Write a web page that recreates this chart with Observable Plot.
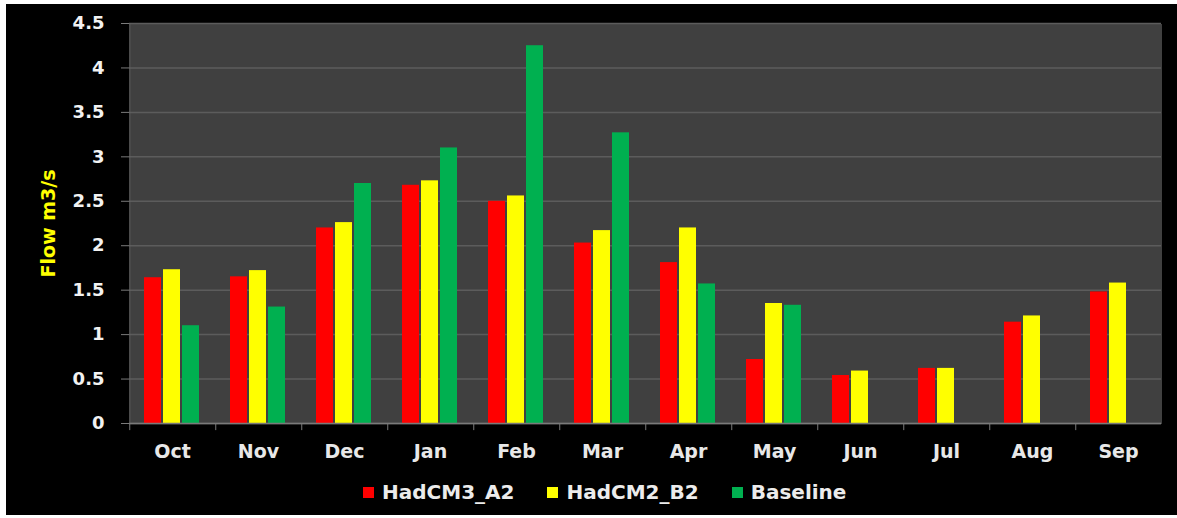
<!DOCTYPE html>
<html><head><meta charset="utf-8">
<script src="https://cdn.jsdelivr.net/npm/d3@7"></script>
<script src="https://cdn.jsdelivr.net/npm/@observablehq/plot@0.6"></script>
<style>
body{margin:0;background:#fff;width:1177px;height:518px;overflow:hidden;font-family:"DejaVu Sans",sans-serif}
#wrap{position:absolute;left:6px;top:4px;width:1171px;height:511px;background:#000;overflow:hidden}
#chart{position:absolute;left:0;top:0}
#legend{position:absolute;left:357px;top:476px;display:flex;align-items:center;gap:33px;color:#ececec;font-size:20px;font-weight:bold}
#legend .item{display:flex;align-items:center;gap:8px}
#legend .sw{width:11px;height:11px;display:inline-block}
</style></head><body>
<div id="wrap"><div id="chart"></div><div id="legend"></div></div>
<script>
const months = ["Oct","Nov","Dec","Jan","Feb","Mar","Apr","May","Jun","Jul","Aug","Sep"];
const series = ["HadCM3_A2","HadCM2_B2","Baseline"];
const colors = ["#ff0000","#ffff00","#00b050"];
const hadcm3A2 = [1.64,1.65,2.20,2.68,2.50,2.03,1.81,0.72,0.54,0.62,1.14,1.48];
const hadcm2B2 = [1.73,1.72,2.26,2.73,2.56,2.17,2.20,1.35,0.59,0.62,1.21,1.58];
const baseline = [1.10,1.31,2.70,3.10,4.25,3.27,1.57,1.33,null,null,null,null];
const yTicks = [0,0.5,1,1.5,2,2.5,3,3.5,4,4.5];
const yLabel = "Flow m3/s";

const values = [hadcm3A2, hadcm2B2, baseline];
const data = [];
months.forEach((m, i) => {
  values.forEach((arr, j) => {
    if (arr[i] != null) data.push({month: m, series: series[j], value: arr[i]});
  });
});

const axisColor = "#7a7a7a";
const plot = Plot.plot({
  width: 1171, height: 470,
  marginTop: 19, marginBottom: 51, marginLeft: 120, marginRight: 13,
  style: {background: "#000", color: "#fff", fontFamily: "'DejaVu Sans', sans-serif", overflow: "visible"},
  fx: {domain: months, padding: 0, label: null},
  x: {domain: series, paddingInner: 0.1, paddingOuter: 0.7125, axis: null},
  y: {domain: [0, 4.5], label: null},
  color: {domain: series, range: colors},
  marks: [
    Plot.frame({fill: "#404040", stroke: null, shapeRendering: "crispEdges"}),
    Plot.gridY(yTicks, {stroke: "#5c5c5c", strokeOpacity: 1, strokeWidth: 1.5}),
    Plot.barY(data, {fx: "month", x: "series", y: "value", fill: "series"}),
    Plot.ruleY([0], {stroke: axisColor, strokeWidth: 1.5}),
    Plot.ruleX(months, {fx: d => d, x: () => series[0], dx: -23.25, y1: 0, y2: -0.08, stroke: axisColor}),
    Plot.ruleX([months[0]], {fx: d => d, x: () => series[0], dx: -23.25, y1: 0, y2: 4.5, stroke: "#666"}),
    Plot.axisY(yTicks, {anchor: "left", tickSize: 8, tickPadding: 17, stroke: axisColor, fill: "#f2f2f2",
      fontSize: 18, fontWeight: "bold", tickFormat: d => String(d), label: null}),
    Plot.axisFx({anchor: "bottom", tickSize: 0, tickPadding: 21, fill: "#e8e8e8", fontSize: 19, fontWeight: "bold", label: null}),
    Plot.text([{m: months[0], t: yLabel}], {fx: "m", text: "t", frameAnchor: "left", textAnchor: "middle", dx: -81, rotate: -90,
      fill: "#ffff00", fontSize: 19, fontWeight: "bold"})
  ]
});
document.getElementById("chart").appendChild(plot);

const legend = document.getElementById("legend");
series.forEach((s, i) => {
  const item = document.createElement("div");
  item.className = "item";
  const sw = document.createElement("span");
  sw.className = "sw";
  sw.style.background = colors[i];
  const t = document.createElement("span");
  t.textContent = s;
  item.appendChild(sw); item.appendChild(t);
  legend.appendChild(item);
});
</script>
</body></html>
